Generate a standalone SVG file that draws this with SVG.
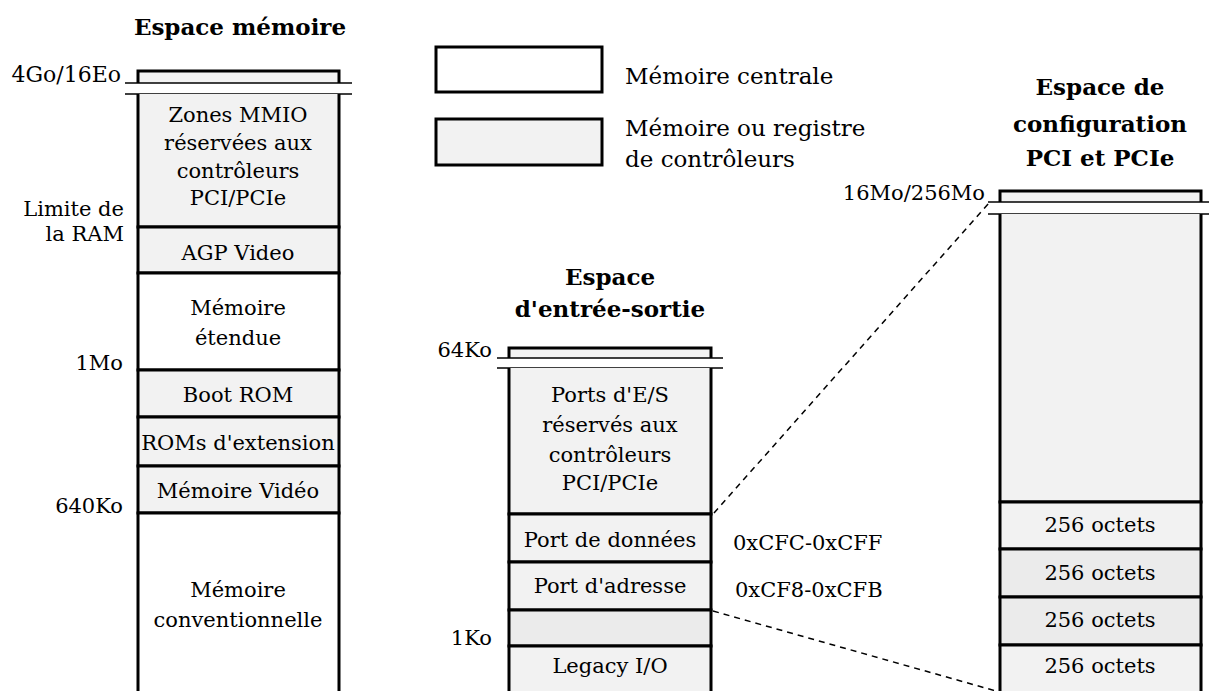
<svg xmlns="http://www.w3.org/2000/svg" width="1209" height="691" viewBox="0 0 1209 691">
<style>
text{font-family:"DejaVu Serif","Liberation Serif",serif;font-size:21px;fill:#000}
.t{font-weight:bold;font-size:23px;text-anchor:middle}
.l{font-size:23px}
.c{text-anchor:middle}
.r{text-anchor:end}
.g{fill:#f2f2f2;stroke:#000;stroke-width:3}
.d{fill:#ebebeb;stroke:#000;stroke-width:3}
.w{fill:#fff;stroke:#000;stroke-width:3}
.b{stroke:#000;stroke-width:1.5;fill:none}
.dash{stroke:#000;stroke-width:1.5;fill:none;stroke-dasharray:6 5}
</style>
<rect width="1209" height="691" fill="#fff"/>
<g id="connectors">
<line class="dash" x1="714" y1="513" x2="989" y2="203"/>
<line class="dash" x1="713" y1="611" x2="996" y2="691"/>
</g>
<g id="legend">
<rect class="w" x="436" y="47" width="166" height="45"/>
<text class="l" x="625" y="84">Mémoire centrale</text>
<rect class="g" x="436" y="119" width="166" height="46"/>
<text class="l" x="625" y="136">Mémoire ou registre</text>
<text class="l" x="625" y="167">de contrôleurs</text>
</g>
<g id="mem-space">
<text class="t" x="240" y="35">Espace mémoire</text>
<path class="g" d="M138,83V71H339V83"/>
<line class="b" x1="125" y1="83" x2="352" y2="83"/>
<line class="b" x1="125" y1="94" x2="352" y2="94"/>
<text class="r" x="121" y="82" style="font-size:22px">4Go/16Eo</text>
<text class="r" x="124" y="216">Limite de</text>
<text class="r" x="124" y="241">la RAM</text>
<text class="r" x="123" y="370">1Mo</text>
<text class="r" x="123" y="513">640Ko</text>
</g>
<g id="mmio">
<path class="g" d="M138,94V227H339V94"/>
<text class="c" x="238" y="122">Zones MMIO</text>
<text class="c" x="238" y="150">réservées aux</text>
<text class="c" x="238" y="178">contrôleurs</text>
<text class="c" x="238" y="205">PCI/PCIe</text>
</g>
<g id="agp"><rect class="g" x="138" y="227" width="201" height="46"/><text class="c" x="238" y="260">AGP Video</text></g>
<g id="ext-mem"><rect class="w" x="138" y="273" width="201" height="97"/><text class="c" x="238" y="315">Mémoire</text><text class="c" x="238" y="345">étendue</text></g>
<g id="boot-rom"><rect class="g" x="138" y="370" width="201" height="47"/><text class="c" x="238" y="402">Boot ROM</text></g>
<g id="ext-rom"><rect class="g" x="138" y="417" width="201" height="49"/><text class="c" x="238" y="450">ROMs d'extension</text></g>
<g id="video-mem"><rect class="g" x="138" y="466" width="201" height="47"/><text class="c" x="238" y="498">Mémoire Vidéo</text></g>
<g id="conv-mem"><path class="w" d="M138,700V513H339V700"/><text class="c" x="238" y="597">Mémoire</text><text class="c" x="238" y="627">conventionnelle</text></g>
<g id="io-space">
<text class="t" x="610" y="285">Espace</text>
<text class="t" x="610" y="317">d'entrée-sortie</text>
<path class="g" d="M509,358V348H711V358"/>
<line class="b" x1="497" y1="358" x2="723" y2="358"/>
<line class="b" x1="497" y1="368" x2="723" y2="368"/>
<text class="r" x="492" y="357">64Ko</text>
<text class="r" x="492" y="645">1Ko</text>
<text x="733" y="550">0xCFC-0xCFF</text>
<text x="735" y="597">0xCF8-0xCFB</text>
</g>
<g id="io-pci"><path class="g" d="M509,368V514H711V368"/>
<text class="c" x="610" y="402">Ports d'E/S</text>
<text class="c" x="610" y="432">réservés aux</text>
<text class="c" x="610" y="462">contrôleurs</text>
<text class="c" x="610" y="490">PCI/PCIe</text></g>
<g id="data-port"><rect class="g" x="509" y="514" width="202" height="48"/><text class="c" x="610" y="547">Port de données</text></g>
<g id="addr-port"><rect class="g" x="509" y="562" width="202" height="48"/><text class="c" x="610" y="593">Port d'adresse</text></g>
<g id="io-gap"><rect class="d" x="509" y="610" width="202" height="36"/></g>
<g id="legacy-io"><path class="g" d="M509,700V646H711V700"/><text class="c" x="610" y="673">Legacy I/O</text></g>
<g id="cfg-space">
<text class="t" x="1100" y="95">Espace de</text>
<text class="t" x="1100" y="132">configuration</text>
<text class="t" x="1100" y="166">PCI et PCIe</text>
<path class="g" d="M1000,202V191H1201V202"/>
<line class="b" x1="988" y1="202" x2="1209" y2="202"/>
<line class="b" x1="988" y1="214" x2="1209" y2="214"/>
<text class="r" x="985" y="200">16Mo/256Mo</text>
</g>
<g id="cfg-top"><path class="g" d="M1000,214V502H1201V214"/></g>
<g id="cfg-1"><rect class="g" x="1000" y="502" width="201" height="47"/><text class="c" x="1100" y="532">256 octets</text></g>
<g id="cfg-2"><rect class="d" x="1000" y="549" width="201" height="48"/><text class="c" x="1100" y="580">256 octets</text></g>
<g id="cfg-3"><rect class="d" x="1000" y="597" width="201" height="48"/><text class="c" x="1100" y="627">256 octets</text></g>
<g id="cfg-4"><path class="g" d="M1000,700V645H1201V700"/><text class="c" x="1100" y="673">256 octets</text></g>
</svg>
